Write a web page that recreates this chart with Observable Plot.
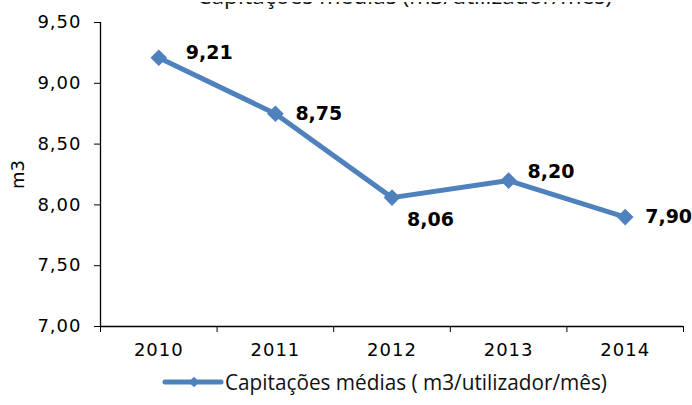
<!DOCTYPE html>
<html>
<head>
<meta charset="utf-8">
<script src="https://cdn.jsdelivr.net/npm/d3@7"></script>
<script src="https://cdn.jsdelivr.net/npm/@observablehq/plot@0.6"></script>
<style>
  html, body { margin: 0; padding: 0; background: #fff; overflow: hidden; }
  #wrap { position: relative; width: 692px; height: 405px; }
  #chart { position: absolute; top: 0; left: 0; }
  #title, #legend { position: absolute; left: 0; }
  #title { top: 0; }
  #legend { top: 362px; }
  g[aria-label="x-axis tick label"] text, g[aria-label="y-axis tick label"] text { letter-spacing: 1px; }
</style>
</head>
<body>
<div id="wrap">
  <div id="chart"></div>
  <div id="title"></div>
  <div id="legend"></div>
</div>
<script>
const years = [2010, 2011, 2012, 2013, 2014];
const values = [9.21, 8.75, 8.06, 8.20, 7.90];
const yTicks = [7.0, 7.5, 8.0, 8.5, 9.0, 9.5];
const titleText = "Capitações médias (m3/utilizador/mês)";
const seriesName = "Capitações médias ( m3/utilizador/mês)";
const yLabel = "m3";

const data = years.map((y, i) => ({year: y, value: values[i], label: values[i].toFixed(2).replace(".", ",")}));
const boundaries = years.map(y => y - 0.5).concat([years[years.length - 1] + 0.5]);
const fmt = d => d.toFixed(2).replace(".", ",");
const blue = "#4F81BD";
const condensed = "'Open Sans', sans-serif";

const first = data.filter(d => d.year === 2010);
const right = data.filter(d => d.year === 2011 || d.year === 2014);
const below = data.filter(d => d.year === 2012);
const above = data.filter(d => d.year === 2013);

const chart = Plot.plot({
  width: 692,
  height: 360,
  marginLeft: 100,
  marginRight: 9,
  marginTop: 22,
  marginBottom: 34,
  style: {fontFamily: "DejaVu Sans, sans-serif", fontSize: "18px", color: "#000", background: "#fff"},
  x: {type: "linear", domain: [boundaries[0], boundaries[boundaries.length - 1]]},
  y: {domain: [7, 9.5]},
  marks: [
    Plot.axisY({ticks: yTicks, tickFormat: fmt, tickSize: 6, tickPadding: 13, label: null, fontSize: 18}),
    Plot.ruleX([boundaries[0]], {stroke: "#000", strokeWidth: 1.3}),
    Plot.ruleY([7], {stroke: "#000", strokeWidth: 1.3}),
    Plot.axisX({ticks: boundaries, tickFormat: () => "", tickSize: 6, label: null}),
    Plot.axisX({ticks: years, tickFormat: d => String(d), tickSize: 0, tickPadding: 17, label: null, fontSize: 18}),
    Plot.text([yLabel], {frameAnchor: "left", textAnchor: "middle", dx: -82, rotate: -90, fontSize: 18, text: d => d}),
    Plot.line(data, {x: "year", y: "value", stroke: blue, strokeWidth: 5}),
    Plot.dot(data, {x: "year", y: "value", symbol: "diamond2", r: 7.5, fill: blue, stroke: "none"}),
    Plot.text(first, {x: "year", y: "value", text: "label", textAnchor: "start", dx: 27, dy: -5, fontWeight: "bold", fontSize: 19}),
    Plot.text(right, {x: "year", y: "value", text: "label", textAnchor: "start", dx: 20, dy: 0, fontWeight: "bold", fontSize: 19}),
    Plot.text(below, {x: "year", y: "value", text: "label", textAnchor: "start", dx: 15, dy: 22, fontWeight: "bold", fontSize: 19}),
    Plot.text(above, {x: "year", y: "value", text: "label", textAnchor: "start", dx: 19, dy: -9, fontWeight: "bold", fontSize: 19})
  ]
});
document.getElementById("chart").appendChild(chart);

// Title (cut off at the top edge, as in the reference)
const ts = d3.create("svg").attr("width", 692).attr("height", 12);
ts.append("text").attr("x", 197).attr("y", 1.5).attr("textLength", 415).attr("lengthAdjust", "spacingAndGlyphs")
  .attr("font-family", condensed).attr("font-size", 22).attr("fill", "#111").text(titleText);
document.getElementById("title").appendChild(ts.node());

// Legend
const ls = d3.create("svg").attr("width", 692).attr("height", 40);
ls.append("line").attr("x1", 165).attr("x2", 221).attr("y1", 20).attr("y2", 20)
  .attr("stroke", blue).attr("stroke-width", 5).attr("stroke-linecap", "round");
ls.append("path").attr("d", d3.symbol(d3.symbolDiamond2, 70)()).attr("transform", "translate(194,20)").attr("fill", blue);
ls.append("text").attr("x", 225).attr("y", 28).attr("textLength", 382).attr("lengthAdjust", "spacingAndGlyphs")
  .attr("font-family", condensed).attr("font-size", 21).attr("fill", "#111").text(seriesName);
document.getElementById("legend").appendChild(ls.node());
</script>
</body>
</html>
